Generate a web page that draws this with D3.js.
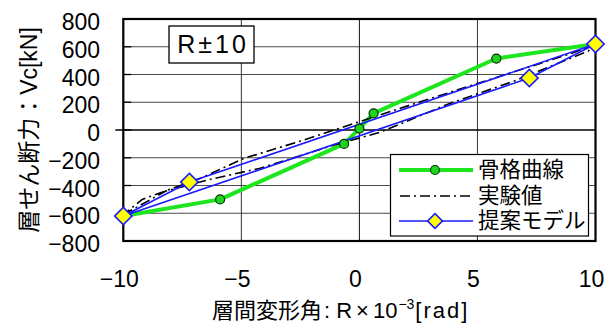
<!DOCTYPE html>
<html>
<head>
<meta charset="utf-8">
<script src="https://cdn.jsdelivr.net/npm/d3@7"></script>
<style>
  html, body { margin: 0; padding: 0; background: #fff; }
  svg { display: block; font-family: "Liberation Sans", "Noto Sans CJK JP", sans-serif; }
</style>
</head>
<body>
<svg id="chart" width="611" height="325"></svg>
<script>
// Story drift angle R (x10^-3 rad) and story shear Vc (kN)

// 骨格曲線 (skeleton curve)
const skeletonR  = [-10, -5.9, -0.65, 0, 0.6, 5.8, 10];
const skeletonVc = [-620, -500, -100, 10, 120, 515, 620];

// 実験値 (test result, one full loop)
const testR  = [-10, -8.2, -6.3, -4.2, -1.1, 0.9, 3.8, 6.6, 9.7, 10, 8.9, 5.0, 1.7, 0, -2.5, -4.9, -6.7, -9.2, -10];
const testVc = [-610, -440, -355, -275, -110, -15, 190, 355, 570, 615, 548, 335, 155, 60, -80, -205, -346, -500, -610];

// 提案モデル (proposed model loop)
const modelR  = [-10, -7.2, 10, 7.2, -10];
const modelVc = [-620, -375, 620, 375, -620];

// Axes
const xTicks = [-10, -5, 0, 5, 10];
const yTicks = [-800, -600, -400, -200, 0, 200, 400, 600, 800];
const xTickLabels = ["\u221210", "\u22125", "0", "5", "10"];
const yTickLabels = ["\u2212800", "\u2212600", "\u2212400", "\u2212200", "0", "200", "400", "600", "800"];

const seriesNames = ["骨格曲線", "実験値", "提案モデル"];
const yTitle = "層せん断力：Vc[kN]";
const xTitleJa = "層間変形角";
const xTitleColon = ":";
const xTitleR = "R×";
const xTitleBase = "10";
const xTitleSup = "\u22123";
const xTitleTail = "[rad]";
const caseLabel = "R±10";

const svg = d3.select("#chart");
const plotL = 123.3, plotR = 595.5, plotT = 19, plotB = 241;

const x = d3.scaleLinear().domain([-10, 10]).range([plotL, plotR]);
const y = d3.scaleLinear().domain([-800, 800]).range([plotB, plotT]);

const zip = (a, b) => a.map((v, i) => [v, b[i]]);
const line = d3.line().x(d => x(d[0])).y(d => y(d[1]));

// Gridlines
svg.append("g").selectAll("line").data(yTicks.filter(v => v !== 0 && Math.abs(v) !== 800)).join("line")
  .attr("x1", plotL).attr("x2", plotR)
  .attr("y1", d => y(d)).attr("y2", d => y(d))
  .attr("stroke", "#4a4a4a").attr("stroke-width", 1);
svg.append("g").selectAll("line").data(xTicks.filter(v => Math.abs(v) !== 10)).join("line")
  .attr("x1", d => x(d)).attr("x2", d => x(d))
  .attr("y1", plotT).attr("y2", plotB)
  .attr("stroke", d => d === 0 ? "#111" : "#333").attr("stroke-width", 1);

// Inner tick marks on the value axis
svg.append("g").selectAll("line").data(yTicks).join("line")
  .attr("x1", plotL).attr("x2", plotL + 8)
  .attr("y1", d => y(d)).attr("y2", d => y(d))
  .attr("stroke", "#000").attr("stroke-width", 1.3);

// Zero line
svg.append("line")
  .attr("x1", plotL - 8).attr("x2", plotR)
  .attr("y1", y(0)).attr("y2", y(0))
  .attr("stroke", "#000").attr("stroke-width", 1.6);

// Plot frame
svg.append("rect")
  .attr("x", plotL).attr("y", plotT)
  .attr("width", plotR - plotL).attr("height", plotB - plotT)
  .attr("fill", "none").attr("stroke", "#000").attr("stroke-width", 2.2);

// Tick labels
svg.append("g").selectAll("text").data(yTicks).join("text")
  .attr("x", 100).attr("y", d => y(d) + 3)
  .attr("text-anchor", "end").attr("dominant-baseline", "central")
  .attr("font-size", 23).attr("fill", "#000")
  .text((d, i) => yTickLabels[i]);
svg.append("g").selectAll("text").data(xTicks).join("text")
  .attr("x", d => x(d) - 4).attr("y", 279)
  .attr("text-anchor", "middle").attr("dominant-baseline", "central")
  .attr("font-size", 23).attr("fill", "#000")
  .text((d, i) => xTickLabels[i]);

// Axis titles
const xt = svg.append("text")
  .attr("x", 212).attr("y", 318)
  .attr("text-anchor", "start").attr("font-size", 22).attr("fill", "#000");
xt.append("tspan").attr("dx", 0).text(xTitleJa);
xt.append("tspan").attr("dx", 2).attr("letter-spacing", 6).text(xTitleColon);
xt.append("tspan").attr("letter-spacing", 4).text(xTitleR);
xt.append("tspan").text(xTitleBase);
xt.append("tspan").attr("font-size", 14).attr("dy", -9).attr("dx", 1).text(xTitleSup);
xt.append("tspan").attr("dy", 9).attr("dx", 1).attr("letter-spacing", 2).text(xTitleTail);

svg.append("text")
  .attr("transform", "translate(37,130) rotate(-90)")
  .attr("text-anchor", "middle").attr("font-size", 23).attr("fill", "#000")
  .text(yTitle);

// Series lines
svg.append("path").datum(zip(skeletonR, skeletonVc))
  .attr("d", line).attr("fill", "none")
  .attr("stroke", "#1ee61e").attr("stroke-width", 4).attr("stroke-linejoin", "round");
svg.append("path").datum(zip(testR, testVc))
  .attr("d", line).attr("fill", "none")
  .attr("stroke", "#000").attr("stroke-width", 1.6)
  .attr("stroke-dasharray", "10,4,2,4");
svg.append("path").datum(zip(modelR, modelVc))
  .attr("d", line).attr("fill", "none")
  .attr("stroke", "#1a1aff").attr("stroke-width", 1.6).attr("stroke-linejoin", "round");

// Markers
svg.append("g").selectAll("circle").data(zip(skeletonR, skeletonVc)).join("circle")
  .attr("cx", d => x(d[0])).attr("cy", d => y(d[1])).attr("r", 4.5)
  .attr("fill", "#1ed41e").attr("stroke", "#063006").attr("stroke-width", 1.2);
svg.append("g").selectAll("path").data(zip(modelR, modelVc).slice(0, 4)).join("path")
  .attr("transform", d => `translate(${x(d[0])},${y(d[1])}) rotate(45)`)
  .attr("d", d3.symbol().type(d3.symbolSquare).size(150))
  .attr("fill", "#ffff00").attr("stroke", "#1a1aff").attr("stroke-width", 1.6);

// Case label box
const cl = svg.append("g");
cl.append("rect").attr("x", 169).attr("y", 26).attr("width", 85).attr("height", 37)
  .attr("fill", "#fff").attr("stroke", "#000").attr("stroke-width", 1.3);
cl.append("text").attr("x", 213).attr("y", 53)
  .attr("text-anchor", "middle").attr("font-size", 25).attr("letter-spacing", 3).attr("fill", "#000")
  .text(caseLabel);

// Legend
const lg = svg.append("g");
lg.append("rect").attr("x", 390.5).attr("y", 154.5).attr("width", 198).attr("height", 81.5)
  .attr("fill", "#fff").attr("stroke", "#000").attr("stroke-width", 1.2);
const rows = [170, 196, 221];
lg.append("line").attr("x1", 399).attr("x2", 473).attr("y1", rows[0]).attr("y2", rows[0])
  .attr("stroke", "#1ee61e").attr("stroke-width", 4);
lg.append("circle").attr("cx", 435).attr("cy", rows[0]).attr("r", 4.5)
  .attr("fill", "#1ed41e").attr("stroke", "#063006").attr("stroke-width", 1.2);
lg.append("line").attr("x1", 400).attr("x2", 472).attr("y1", rows[1]).attr("y2", rows[1])
  .attr("stroke", "#000").attr("stroke-width", 1.4).attr("stroke-dasharray", "10,4,2,4");
lg.append("line").attr("x1", 399).attr("x2", 473).attr("y1", rows[2]).attr("y2", rows[2])
  .attr("stroke", "#1a1aff").attr("stroke-width", 1.6);
lg.append("path").attr("transform", `translate(435,${rows[2]}) rotate(45)`)
  .attr("d", d3.symbol().type(d3.symbolSquare).size(110))
  .attr("fill", "#ffff00").attr("stroke", "#1a1aff").attr("stroke-width", 1.6);
lg.selectAll("text.lbl").data(seriesNames).join("text").attr("class", "lbl")
  .attr("x", 478).attr("y", (d, i) => rows[i])
  .attr("dominant-baseline", "central").attr("font-size", 21.5).attr("fill", "#000")
  .text(d => d);
</script>
</body>
</html>
